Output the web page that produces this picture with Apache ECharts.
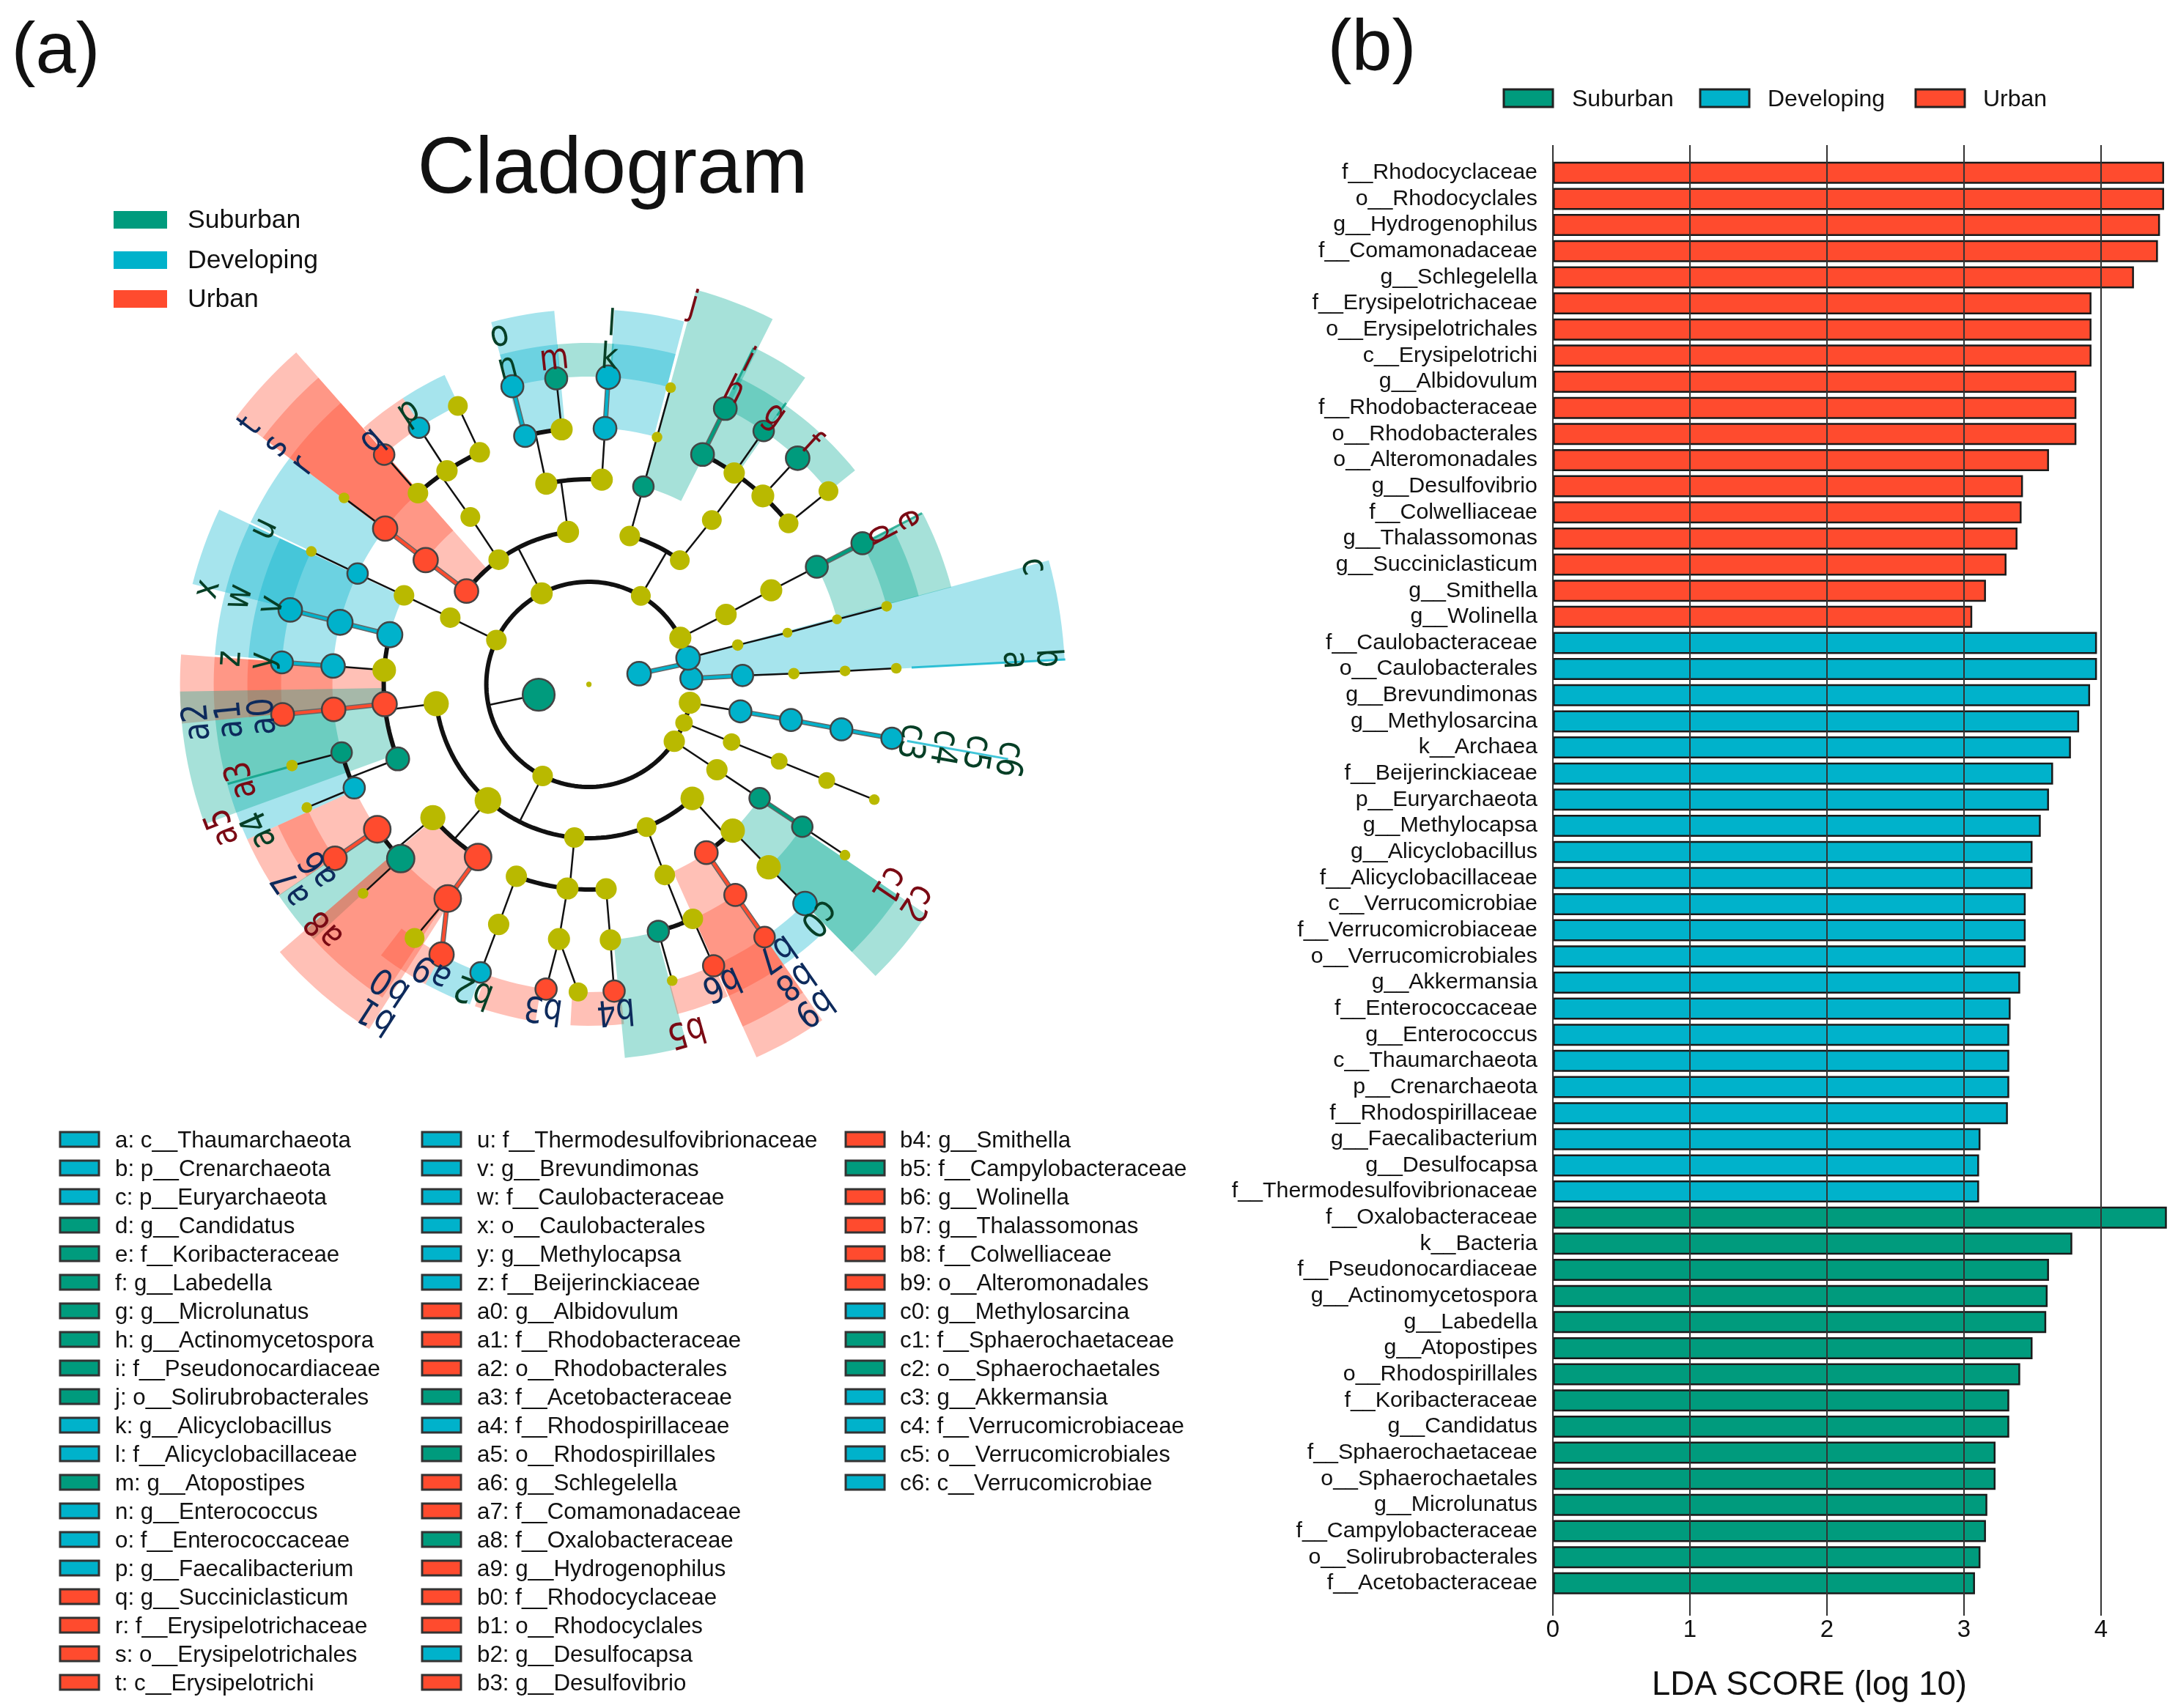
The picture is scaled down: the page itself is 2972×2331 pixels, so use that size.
<!DOCTYPE html>
<html><head><meta charset="utf-8">
<style>html,body{margin:0;padding:0;background:#fff}#c{width:2972px;height:2331px}</style>
<script src="https://cdn.jsdelivr.net/npm/echarts@6/dist/echarts.min.js"></script>
</head><body><div id="c"></div>
<script>
// ---------- panel (b) data ----------
const urbanNames = ['f__Rhodocyclaceae','o__Rhodocyclales','g__Hydrogenophilus','f__Comamonadaceae','g__Schlegelella','f__Erysipelotrichaceae','o__Erysipelotrichales','c__Erysipelotrichi','g__Albidovulum','f__Rhodobacteraceae','o__Rhodobacterales','o__Alteromonadales','g__Desulfovibrio','f__Colwelliaceae','g__Thalassomonas','g__Succiniclasticum','g__Smithella','g__Wolinella'];
const urbanScores = [4.46,4.46,4.43,4.415,4.24,3.93,3.93,3.93,3.82,3.82,3.82,3.62,3.43,3.42,3.39,3.31,3.16,3.06];
const developingNames = ['f__Caulobacteraceae','o__Caulobacterales','g__Brevundimonas','g__Methylosarcina','k__Archaea','f__Beijerinckiaceae','p__Euryarchaeota','g__Methylocapsa','g__Alicyclobacillus','f__Alicyclobacillaceae','c__Verrucomicrobiae','f__Verrucomicrobiaceae','o__Verrucomicrobiales','g__Akkermansia','f__Enterococcaceae','g__Enterococcus','c__Thaumarchaeota','p__Crenarchaeota','f__Rhodospirillaceae','g__Faecalibacterium','g__Desulfocapsa','f__Thermodesulfovibrionaceae'];
const developingScores = [3.97,3.97,3.92,3.84,3.78,3.65,3.62,3.56,3.50,3.50,3.45,3.45,3.45,3.41,3.34,3.33,3.33,3.33,3.32,3.12,3.11,3.11];
const suburbanNames = ['f__Oxalobacteraceae','k__Bacteria','f__Pseudonocardiaceae','g__Actinomycetospora','g__Labedella','g__Atopostipes','o__Rhodospirillales','f__Koribacteraceae','g__Candidatus','f__Sphaerochaetaceae','o__Sphaerochaetales','g__Microlunatus','f__Campylobacteraceae','o__Solirubrobacterales','f__Acetobacteraceae'];
const suburbanScores = [4.48,3.79,3.62,3.61,3.60,3.50,3.41,3.33,3.33,3.23,3.23,3.17,3.16,3.12,3.08];
const xTicks = [0,1,2,3,4];
const groups = ['Suburban','Developing','Urban'];

// ---------- panel (a) data: [id, parent, level, angle, group, abundance] ----------
const cladeRoots = [['root',null,0,0,'Y',7],['K_A','root',1,12,'B',31],['K_B','root',1,191.6,'T',42]];
const cladeLevel2 = [['b','K_A',2,3.3,'B',29],['c','K_A',2,14.9,'B',31],['_p27','K_B',2,27,'Y',29],['_p60','K_B',2,59.6,'Y',26],['_p117','K_B',2,117.4,'Y',29],['_p154','K_B',2,154.4,'Y',27],['_p243','K_B',2,243.2,'Y',27],['_p326','K_B',2,326.3,'Y',28],['_p338','K_B',2,338,'Y',23],['_p350','K_B',2,349.7,'Y',29]];
const cladeLevel3 = [['a','b',3,3.3,'B',28],['_c15','c',3,14.8,'Y',15],['_c27','_p27',3,27,'Y',28],['_c75','_p60',3,74.6,'Y',27],['_c54','_p60',3,53.8,'Y',26],['_c98','_p117',3,97.8,'Y',29],['_c126','_p117',3,125.9,'Y',27],['t','_p117',3,142.7,'R',31],['_c154','_p154',3,154.3,'Y',27],['_c187','_p243',3,187.2,'Y',33],['_c229','_p243',3,229,'Y',35],['_c265','_p243',3,264.6,'Y',27],['_c292','_p243',3,292,'Y',26],['_c312','_p243',3,312.2,'Y',31],['c6','_p350',3,349.9,'B',29],['_c338','_p338',3,338,'Y',23],['_c326','_p326',3,326.3,'Y',28]];
const cladeLevel4 = [['_o3','a',4,3,'Y',15],['_o15','_c15',4,14.6,'Y',13],['_o27','_c27',4,27.3,'Y',29],['j','_c75',4,74.6,'T',27],['_o53','_c54',4,53.2,'Y',26],['_o102','_c98',4,102,'Y',29],['_o86','_c98',4,86.4,'Y',29],['_o125','_c126',4,125.3,'Y',26],['s','t',4,142.7,'R',32],['_o154','_c154',4,154.3,'Y',27],['x','_c187',4,166,'B',33],['_o176','_c187',4,176,'Y',31],['a2','_c187',4,185.5,'R',32],['a5','_c187',4,201.3,'T',30],['_o220','_c229',4,220.5,'Y',33],['b1','_c229',4,237.3,'R',35],['_o249','_c265',4,249.3,'Y',28],['_o264','_c265',4,264,'Y',29],['_o275','_c265',4,274.8,'Y',28],['_o292','_c292',4,291.7,'Y',27],['_o314','_c312',4,314.5,'Y',32],['b9','_c312',4,304.9,'R',30],['_o338','_c338',4,338,'Y',22],['c2','_c326',4,326.3,'T',27],['c5','c6',4,350,'B',29]];
const cladeLevel5 = [['_f3','_o3',5,3,'Y',14],['_f15','_o15',5,14.7,'Y',13],['e','_o27',5,27.3,'T',29],['_f75','j',5,74.6,'Y',14],['i','_o53',5,63.7,'T',30],['_f55','_o53',5,55.5,'Y',28],['_f47','_o53',5,47.3,'Y',30],['_f39','_o53',5,38.9,'Y',26],['o','_o102',5,104.4,'B',29],['_f96','_o102',5,96.1,'Y',29],['l','_o86',5,86.4,'B',30],['_f115','_o125',5,115.2,'Y',27],['_f124','_o125',5,123.6,'Y',28],['_f132','_o125',5,131.8,'Y',27],['r','s',5,142.6,'R',32],['u','_o154',5,154.4,'B',27],['w','x',5,166,'B',33],['z','_o176',5,175.9,'B',31],['a1','a2',5,185.6,'R',31],['a3','a5',5,195.4,'T',27],['a4','a5',5,203.8,'B',28],['a7','_o220',5,214.4,'R',35],['a8','_o220',5,222.8,'T',36],['b0','b1',5,236.6,'R',35],['_f249','_o249',5,249.4,'Y',28],['_f263','_o264',5,263.3,'Y',29],['_f275','_o275',5,274.8,'Y',28],['_f294','_o292',5,293.9,'Y',27],['b5','_o292',5,285.7,'T',28],['_f314','_o314',5,314.5,'Y',32],['b8','b9',5,304.8,'R',29],['_f338','_o338',5,338,'Y',22],['c1','c2',5,326.3,'T',27],['c4','c5',5,349.9,'B',29]];
const cladeLevel6 = [['_g3','_f3',6,3,'Y',14],['_g15','_f15',6,14.7,'Y',14],['d','e',6,27.3,'T',29],['_g75','_f75',6,74.6,'Y',14],['h','i',6,63.7,'T',30],['g','_f55',6,55.4,'T',27],['f','_f47',6,47.3,'T',31],['_g39','_f39',6,38.9,'Y',26],['n','o',6,104.4,'B',29],['m','_f96',6,96.1,'T',29],['k','l',6,86.4,'B',31],['_g115','_f115',6,115.2,'Y',26],['p','_f124',6,123.5,'B',27],['q','_f132',6,131.7,'R',27],['_g143','r',6,142.7,'Y',14],['_g154','u',6,154.4,'Y',14],['v','w',6,166,'B',31],['y','z',6,175.9,'B',29],['a0','a1',6,185.6,'R',30],['_g195','a3',6,195.3,'Y',15],['_g204','a4',6,203.6,'Y',14],['a6','a7',6,214.4,'R',31],['_g223','a8',6,222.8,'Y',14],['a9','b0',6,241.4,'R',32],['_g235','b0',6,235.5,'Y',26],['b2','_f249',6,249.4,'B',27],['b3','_f263',6,262,'R',28],['_g268','_f263',6,268,'Y',25],['b4','_f275',6,274.7,'R',28],['_g286','b5',6,285.7,'Y',14],['b6','_f294',6,293.9,'R',28],['b7','b8',6,304.8,'R',27],['c0','_f314',6,314.6,'B',31],['_g338','_f338',6,338,'Y',14],['_g326','c1',6,326.3,'Y',14],['c3','c4',6,349.9,'B',28]];
// highlighted wedges: [clade id, from angle, to angle]
const wedges = [['c',2.9,15.1],['e',15,27.2],['d',15,27.2],['f',38.8,47.3],['g',47.3,55.2],['h',55,64.2],['i',54.8,64.1],['j',63.3,74.8],['k',75.3,86.1],['l',75.3,86.1],['m',85.8,95.4],['n',95.3,105.1],['o',95.3,105.1],['p',115,123],['q',123,131.3],['r',131.4,142.9],['s',131.4,142.9],['t',131.4,142.9],['u',142.9,154.4],['v',154.7,165.8],['w',154.7,165.8],['x',154.7,165.8],['y',165.8,175.5],['z',165.8,175.5],['a0',175.8,185.5],['a1',175.8,185.5],['a2',175.8,185.5],['a3',185.5,195.4],['a4',195.4,204.4],['a5',181,200],['a6',204.4,214.3],['a7',204.4,214.3],['a8',214.2,222.8],['a9',232.5,241.4],['b0',220.9,236.6],['b1',220.9,237.5],['b2',241.4,249.6],['b3',250.5,261],['b4',266.9,275.9],['b5',275.5,285.2],['b6',285,294],['b7',294.2,304.8],['b8',294.2,304.8],['b9',294.2,304.8],['c0',304.8,314],['c1',314.5,325.7],['c2',314.5,325.7]];
// hairline wedges along a single lineage: [group, from level, to level, angle]
const hairlines = [['B',6.3,9.3,3],['T',6.2,7.3,27.2],['B',6.3,8.3,349.9],['T',6,7.3,195.4],['T',6.4,7.3,63.9],['T',6.4,6.7,55]];
const cladeKey = ['a: c__Thaumarchaeota','b: p__Crenarchaeota','c: p__Euryarchaeota','d: g__Candidatus','e: f__Koribacteraceae','f: g__Labedella','g: g__Microlunatus','h: g__Actinomycetospora','i: f__Pseudonocardiaceae','j: o__Solirubrobacterales','k: g__Alicyclobacillus','l: f__Alicyclobacillaceae','m: g__Atopostipes','n: g__Enterococcus','o: f__Enterococcaceae','p: g__Faecalibacterium','q: g__Succiniclasticum','r: f__Erysipelotrichaceae','s: o__Erysipelotrichales','t: c__Erysipelotrichi','u: f__Thermodesulfovibrionaceae','v: g__Brevundimonas','w: f__Caulobacteraceae','x: o__Caulobacterales','y: g__Methylocapsa','z: f__Beijerinckiaceae','a0: g__Albidovulum','a1: f__Rhodobacteraceae','a2: o__Rhodobacterales','a3: f__Acetobacteraceae','a4: f__Rhodospirillaceae','a5: o__Rhodospirillales','a6: g__Schlegelella','a7: f__Comamonadaceae','a8: f__Oxalobacteraceae','a9: g__Hydrogenophilus','b0: f__Rhodocyclaceae','b1: o__Rhodocyclales','b2: g__Desulfocapsa','b3: g__Desulfovibrio','b4: g__Smithella','b5: f__Campylobacteraceae','b6: g__Wolinella','b7: g__Thalassomonas','b8: f__Colwelliaceae','b9: o__Alteromonadales','c0: g__Methylosarcina','c1: f__Sphaerochaetaceae','c2: o__Sphaerochaetales','c3: g__Akkermansia','c4: f__Verrucomicrobiaceae','c5: o__Verrucomicrobiales','c6: c__Verrucomicrobiae'];

// ---------- styling ----------
const COL = {T:'#009B7D',B:'#00B2CB',R:'#FF4B2E',Y:'#B9B900'};
const WEDGE = {T:'#00A892',B:'#00B2CB',R:'#FF4B2E'};
const TXT = {T:'#7A0A14',B:'#063F26',R:'#0D2A5C'};
const SANS = '"Liberation Sans",Arial,sans-serif';
const nodes = [...cladeRoots,...cladeLevel2,...cladeLevel3,...cladeLevel4,...cladeLevel5,...cladeLevel6]
  .map(n=>({id:n[0],parent:n[1],level:n[2],angle:n[3],group:n[4],abund:n[5]}));
const byId = Object.fromEntries(nodes.map(n=>[n.id,n]));
const kids = {}; nodes.forEach(n=>{ if(n.parent)(kids[n.parent]=kids[n.parent]||[]).push(n); });

// tree edges, expressed in (level, angle) data space
const edges = [];
const arcPts=(lv,a0,a1)=>{const p=[],k=Math.max(2,Math.ceil(Math.abs(a1-a0)/2));for(let i=0;i<=k;i++)p.push([lv,a0+(a1-a0)*i/k]);return p;};
const black=(pts,w)=>edges.push({pts,w,color:'#111'});
const colored=(pts,g)=>{edges.push({pts,w:7,color:'#666'});edges.push({pts,w:4,color:COL[g]});};
nodes.forEach(p=>{
  const ch=kids[p.id]; if(!ch||p.id==='root')return;
  if(ch.length>1&&ch[0].level<=5){
    const as=ch.map(c=>c.angle),lv=ch[0].level;
    black(arcPts(lv,Math.min(...as),Math.max(...as)),6);
    const all=p.group!=='Y'&&ch.every(c=>c.group===p.group);
    const line=[[p.level,p.angle],[lv,p.angle]];
    if(all)colored(line,p.group);else black(line,2.5);
  }else ch.forEach(c=>{
    const line=[[p.level,p.angle],[c.level,c.angle]];
    if(c.group===p.group&&p.group!=='Y')colored(line,p.group);else black(line,2.5);
  });
});

const outerLevel = L => (420+46*(7-L))/70;
const labelLevel = L => 6.36+(6-L)*0.645;
const labelled = nodes.filter(n=>!n.id.startsWith('_')&&n.level>=2);

// ---------- bars ----------
const allNames=[...urbanNames,...developingNames,...suburbanNames];
const pad=(before,vals,after)=>[...Array(before).fill(null),...vals,...Array(after).fill(null)];
const nU=urbanNames.length,nD=developingNames.length,nS=suburbanNames.length;
const barSeries=(name,g,data)=>({type:'bar',name,xAxisIndex:0,yAxisIndex:0,stack:'all',barWidth:30,z:2,data,
  itemStyle:{color:COL[g],borderColor:'#1a1a1a',borderWidth:2.5},silent:true,animation:false});

// ---------- graphic (text and keys) ----------
const g=[];
const txt=(x,y,t,size,align)=>g.push({type:'text',x,y,silent:true,style:{text:t,fill:'#111',font:size+'px '+SANS,textAlign:align||'left',textVerticalAlign:'middle'}});
const rect=(x,y,w,h,fill,stroke)=>g.push({type:'rect',silent:true,shape:{x,y,width:w,height:h},style:{fill,stroke:stroke||null,lineWidth:stroke?3:0}});
txt(76,72,'(a)',99,'center'); txt(1872,68,'(b)',99,'center'); txt(836,233,'Cladogram',109,'center');
[['T',301],['B',356],['R',409]].forEach((e,i)=>{rect(155,e[1]-13,73,24,COL[e[0]]);txt(256,e[1],groups[i],35.6);});
[[2052,2145,'T'],[2320,2412,'B'],[2614,2706,'R']].forEach((e,i)=>{rect(e[0],122,67,24,COL[e[2]],'#222');txt(e[1],136,groups[i],32);});
txt(2469,2300,'LDA SCORE (log 10)',45.5,'center');
const keyCols=[[82,157],[576,651],[1154,1228]];
cladeKey.forEach((t,i)=>{
  const c=Math.floor(i/20),r=i%20,y=1555+r*39,id=t.split(':')[0];
  rect(keyCols[c][0],y-10,53,20,COL[byId[id].group],'#333');
  txt(keyCols[c][1],y+2,t,31.3);
});

const option={
  animation:false,backgroundColor:'#fff',
  polar:{center:[803.6,934],radius:[0,700]},
  radiusAxis:{polarIndex:0,min:0,max:10,show:false},
  angleAxis:{polarIndex:0,min:0,max:360,startAngle:0,clockwise:false,show:false},
  grid:[{left:2119,top:218,width:841.5,height:1960.6},{left:2119,top:198,width:841.5,height:2007}],
  xAxis:[
    {gridIndex:0,type:'value',min:0,max:4.5,show:false},
    {gridIndex:1,type:'value',min:0,max:4.5,interval:1,z:5,position:'bottom',
     axisLine:{show:false},axisTick:{show:false},
     splitLine:{show:true,showMaxLine:false,lineStyle:{color:'#333',width:2}},
     axisLabel:{fontFamily:SANS,fontSize:33,color:'#111',margin:3,showMaxLabel:false,
       formatter:v=>xTicks.includes(v)?String(v):''}}
  ],
  yAxis:[
    {gridIndex:0,type:'category',inverse:true,data:allNames,axisLine:{show:false},axisTick:{show:false},
     axisLabel:{fontFamily:SANS,fontSize:30.4,color:'#111',margin:21,interval:0,padding:[3,0,0,0]}},
    {gridIndex:1,type:'value',min:0,max:1,show:false}
  ],
  series:[
    {type:'custom',coordinateSystem:'polar',z:1,silent:true,data:wedges.map((w,i)=>[byId[w[0]].level,w[1],i]),
     renderItem:(p,api)=>{
       const w=wedges[p.dataIndex],n=byId[w[0]],r0=n.level,r1=outerLevel(n.level),pts=[];
       const k=Math.ceil((w[2]-w[1])/1.5);
       for(let i=0;i<=k;i++)pts.push(api.coord([r1,w[1]+(w[2]-w[1])*i/k]));
       for(let i=k;i>=0;i--)pts.push(api.coord([r0,w[1]+(w[2]-w[1])*i/k]));
       return {type:'polygon',shape:{points:pts},style:{fill:WEDGE[n.group],opacity:0.35}};
     }},
    {type:'custom',coordinateSystem:'polar',z:1,silent:true,data:hairlines.map((h,i)=>[h[1],h[3],i]),
     renderItem:(p,api)=>{
       const h=hairlines[p.dataIndex];
       return {type:'polyline',shape:{points:[api.coord([h[1],h[3]]),api.coord([h[2],h[3]])]},style:{stroke:COL[h[0]],lineWidth:3,fill:null,opacity:.75}};
     }},
    {type:'custom',coordinateSystem:'polar',z:3,silent:true,data:edges.map((e,i)=>[e.pts[0][0],e.pts[0][1],i]),
     renderItem:(p,api)=>{
       const e=edges[p.dataIndex];
       return {type:'polyline',shape:{points:e.pts.map(q=>api.coord(q))},style:{stroke:e.color,lineWidth:e.w,fill:null,lineCap:'round',lineJoin:'round'}};
     }},
    {type:'scatter',coordinateSystem:'polar',z:4,silent:true,
     data:nodes.map(n=>({value:[n.level,n.angle],symbolSize:n.abund*1.04,
       itemStyle:{color:COL[n.group],borderColor:n.group==='Y'?'transparent':'#444',borderWidth:n.group==='Y'?0:2.5,opacity:1}}))},
    {type:'custom',coordinateSystem:'polar',z:6,silent:true,data:labelled.map((n,i)=>[labelLevel(n.level),n.angle,i]),
     renderItem:(p,api)=>{
       const n=labelled[p.dataIndex],c=api.coord([labelLevel(n.level),n.angle]);
       return {type:'text',x:c[0],y:c[1],rotation:(n.angle-90)*Math.PI/180,scaleX:0.84,
         style:{text:n.id,fill:TXT[n.group],font:'49px "DejaVu Sans",sans-serif',textAlign:'center',textVerticalAlign:'middle'}};
     }},
    barSeries('Urban','R',pad(0,urbanScores,nD+nS)),
    barSeries('Developing','B',pad(nU,developingScores,nS)),
    barSeries('Suburban','T',pad(nU+nD,suburbanScores,0))
  ],
  graphic:{elements:g}
};
const chart=echarts.init(document.getElementById('c'),null,{renderer:'canvas',width:2972,height:2331});
chart.setOption(option);
</script></body></html>
